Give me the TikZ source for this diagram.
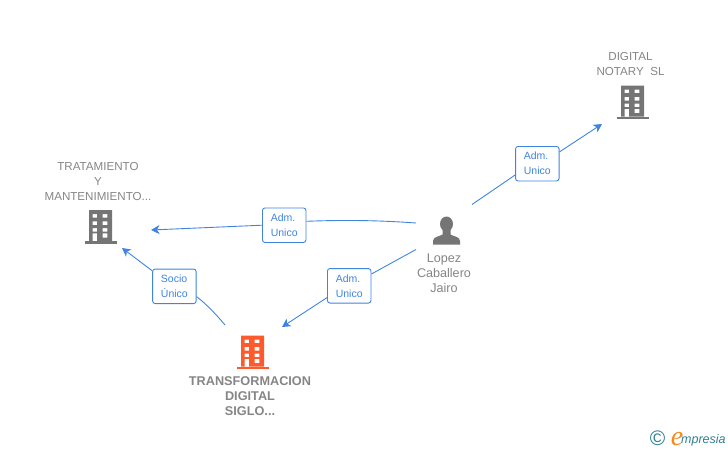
\documentclass[tikz,border=0pt]{standalone}
\usepackage{fontspec}
\setmainfont{Liberation Sans}
\newfontfamily\logofont{Liberation Serif}
\usetikzlibrary{arrows.meta,positioning}
\definecolor{linkblue}{HTML}{3F85E0}
\definecolor{icongray}{HTML}{757575}
\definecolor{textgray}{HTML}{858585}
\definecolor{iconred}{HTML}{FF5A2B}
\definecolor{logoteal}{HTML}{2F7F93}
\definecolor{logoorange}{HTML}{F28A1E}
\tikzset{
  link/.style={draw=linkblue, line width=0.9pt},
  linkarrow/.style={link, -{Stealth[length=8.5pt,width=9pt,inset=2.5pt]}},
  role/.style={draw=linkblue, line width=0.9pt, fill=white, rounded corners=2.5pt,
    minimum width=43.5pt, minimum height=34.5pt, inner sep=0pt, align=left,
    font=\fontsize{10.5}{15}\selectfont, text=linkblue},
  entname/.style={align=center, inner sep=0pt, text=textgray,
    font=\fontsize{11.6}{15}\selectfont},
  personname/.style={entname, font=\fontsize{12.6}{15}\selectfont},
  mainname/.style={entname, font=\fontsize{12.7}{15}\selectfont\bfseries},
  pics/building/.style={code={
    \fill[#1] (-16,0) rectangle (16,-2.5);
    \fill[#1,even odd rule] (-11.5,-2.5) rectangle (11.5,-33.5)
      (-8,-2.5) rectangle (-3.3,-10.2)
      (2,-6) rectangle (6.8,-10.2)
      \foreach \y in {-11.8,-18.5,-25.8}{
        (-8,\y) rectangle (-3.3,\y-3.6)
        (2,\y) rectangle (6.8,\y-3.6)};
  }},
  pics/person/.style={code={
    \fill[#1] (0,-20.5) circle[x radius=6.5,y radius=7.5];
    \fill[#1] (-13.5,0) -- (-13.5,-3.5) .. controls (-13.5,-8) and (-7,-8) .. (-4,-10)
      -- (-4,-16) -- (4,-16) -- (4,-10) .. controls (7,-8) and (13.5,-8) .. (13.5,-3.5) -- (13.5,0) -- cycle;
  }}
}
\begin{document}
\begin{tikzpicture}[x=1pt,y=-1pt]
  \useasboundingbox (0,0) rectangle (728,450);
  % icons
  \pic (tratamiento) at (100.5,243.5) {building=icongray};
  \pic (notary) at (632.5,119) {building=icongray};
  \pic (siglo) at (252.5,369) {building=iconred};
  \pic (lopez) at (446.5,244.5) {person=icongray};
  % names
  \node[entname] (tratname) at (98,181.7) {TRATAMIENTO\\Y\\MANTENIMIENTO...};
  \node[entname] (notaryname) at (630.5,64.2) {DIGITAL\\NOTARY\ \ SL};
  \node[personname] (lopezname) at (444,273) {Lopez\\Caballero\\Jairo};
  \node[mainname] (sigloname) at (250,396) {TRANSFORMACION\\DIGITAL\\SIGLO...};
  % roles
  \node[role] (admnotary) at (537.3,163.7) {Adm.\\Unico};
  \node[role] (admtrat) at (284.2,225.2) {Adm.\\Unico};
  \node[role] (admsiglo) at (349.2,285.8) {Adm.\\Unico};
  \node[role] (socio) at (174.4,286.3) {Socio\\Único};
  % free ends
  \coordinate (fromlopeza) at (472,204.5);
  \coordinate (tonotary) at (602,124);
  \coordinate (fromlopezb) at (416,223);
  \coordinate (totrat) at (151,230);
  \coordinate (fromlopezc) at (416,249.5);
  \coordinate (tosiglo) at (282,327);
  \coordinate (fromsiglo) at (225,325);
  \coordinate (tosocio) at (122,248);
  % connectors
  \draw[link] (fromlopeza) -- (admnotary.207);
  \draw[linkarrow] (admnotary.28) -- (tonotary);
  \draw[link] (fromlopezb) .. controls (375,220) and (340,220) .. (admtrat.10);
  \draw[linkarrow] (admtrat.west) -- (totrat);
  \draw[link] (fromlopezc) -- (admsiglo.28);
  \draw[linkarrow] (admsiglo.208) -- (tosiglo);
  \draw[link] (fromsiglo) .. controls (215,313) and (205,303) .. (socio.-25);
  \draw[linkarrow] (socio.145) -- (tosocio);
  % logo
  \node[text=logoteal, inner sep=0pt, font=\fontsize{21}{21}\selectfont] (copyr) at (657.5,438.5) {©};
  \node[text=logoorange, inner sep=0pt, font=\logofont\fontsize{28}{28}\selectfont\itshape] (logoe) at (677,439) {e};
  \node[text=logoteal, inner sep=0pt, anchor=west, font=\fontsize{12.5}{13}\selectfont\itshape] (logotext) at (681,440) {mpresia};
\end{tikzpicture}
\end{document}
